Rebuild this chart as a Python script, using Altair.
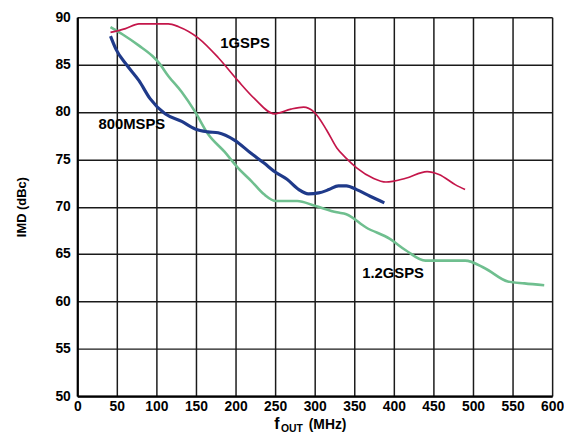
import altair as alt
import pandas as pd

# ---- data ----
f_1g = [42, 61, 78, 115, 128, 153, 178, 203, 224, 249, 270, 286, 299, 315, 328, 340, 353, 374, 390, 415, 442, 457, 478, 490]
imd_1g = [88.4, 88.8, 89.3, 89.3, 89.0, 87.8, 85.75, 83.3, 81.4, 79.8, 80.3, 80.5, 80.0, 78.1, 76.2, 75.1, 74.1, 73.0, 72.6, 73.0, 73.7, 73.4, 72.3, 71.8]

f_800 = [42, 49, 63, 78, 92, 111, 132, 149, 165, 178, 199, 220, 236, 251, 265, 280, 292, 305, 318, 330, 340, 353, 370, 388]
imd_800 = [88.0, 86.6, 84.9, 83.3, 81.4, 79.8, 79.0, 78.2, 77.9, 77.8, 77.0, 75.6, 74.6, 73.6, 72.9, 71.8, 71.35, 71.45, 71.8, 72.2, 72.2, 71.8, 71.1, 70.4]

f_12g = [42, 57, 78, 95, 103, 115, 132, 149, 165, 186, 203, 220, 236, 251, 278, 300, 328, 340, 365, 395, 415, 440, 490, 515, 544, 565, 590]
imd_12g = [88.95, 88.2, 87.0, 85.9, 85.2, 83.8, 82.1, 80.0, 77.7, 75.8, 74.1, 72.7, 71.3, 70.6, 70.6, 70.1, 69.4, 69.2, 67.8, 66.6, 65.4, 64.3, 64.3, 63.5, 62.1, 61.9, 61.7]

series_names = ["1.2GSPS", "1GSPS", "800MSPS"]
series_colors = ["#6fbf8f", "#c4164a", "#1f3a8a"]
series_widths = {"1.2GSPS": 2.6, "1GSPS": 1.7, "800MSPS": 3.2}

label_text = ["1GSPS", "800MSPS", "1.2GSPS"]
label_f = [212, 69, 399]
label_imd = [87.3, 78.7, 63.0]

x_ticks = list(range(0, 601, 50))
y_ticks = list(range(50, 91, 5))

title_parts = ["f", "OUT", "(MHz)"]
y_title = "IMD (dBc)"

# ---- build table ----
rows = []
for name, fs, vs in [("1.2GSPS", f_12g, imd_12g), ("1GSPS", f_1g, imd_1g), ("800MSPS", f_800, imd_800)]:
    for i, (a, b) in enumerate(zip(fs, vs)):
        rows.append({"series": name, "f": a, "imd": b, "idx": i, "sw": series_widths[name]})
df = pd.DataFrame(rows)
labels_df = pd.DataFrame({"text": label_text, "f": label_f, "imd": label_imd})

FONT = "Liberation Sans"
W, H = 480, 383

xscale = alt.Scale(domain=[0, 600], nice=False, zero=False)
yscale = alt.Scale(domain=[50, 90], nice=False, zero=False)

x_axis = alt.Axis(values=x_ticks, title=None, ticks=False, labelPadding=4,
                  labelFont=FONT, labelFontSize=14, labelFontWeight="bold",
                  labelColor="black", grid=True, gridColor="#1a1a1a", gridWidth=1.5,
                  domainColor="black", domainWidth=2.2, labelFlush=False,
                  labelOverlap=False)
y_axis = alt.Axis(values=y_ticks, title=y_title, ticks=False, labelPadding=7,
                  labelFont=FONT, labelFontSize=14, labelFontWeight="bold",
                  labelColor="black", grid=True, gridColor="#1a1a1a", gridWidth=1.5,
                  domainColor="black", domainWidth=2.2, labelOverlap=False,
                  titleFont=FONT, titleFontSize=13, titleFontWeight="bold",
                  titleColor="black", titlePadding=27)

lines = alt.Chart(df).mark_line(interpolate="monotone").encode(
    x=alt.X("f:Q", scale=xscale, axis=x_axis),
    y=alt.Y("imd:Q", scale=yscale, axis=y_axis),
    color=alt.Color("series:N", scale=alt.Scale(domain=series_names, range=series_colors), legend=None),
    strokeWidth=alt.StrokeWidth("sw:Q", scale=None, legend=None),
    detail="series:N",
    order=alt.Order("idx:Q"),
)

labels = alt.Chart(labels_df).mark_text(font=FONT, fontSize=15, fontWeight="bold", color="black").encode(
    x=alt.X("f:Q", scale=xscale, axis=x_axis),
    y=alt.Y("imd:Q", scale=yscale, axis=y_axis),
    text="text:N",
)

def title_piece(txt, xpos, ypos, size):
    return alt.Chart(pd.DataFrame({"t": [txt]})).mark_text(
        font=FONT, fontSize=size, fontWeight="bold", color="black", align="left", baseline="alphabetic"
    ).encode(text="t:N", x=alt.value(xpos), y=alt.value(ypos))

t1 = title_piece(title_parts[0], 199, 416, 16)
t2 = title_piece(title_parts[1], 206, 419, 10.5)
t3 = title_piece(title_parts[2], 234, 416, 14)

chart = alt.layer(lines, labels, t1, t2, t3).properties(
    width=W, height=H,
    autosize=alt.AutoSizeParams(type="none"),
    padding={"left": 70, "top": 7, "right": 12, "bottom": 37},
).configure_view(stroke="black", strokeWidth=1.5).configure(background="white")

chart.save("out.html", embed_options={"renderer": "svg", "actions": False})
